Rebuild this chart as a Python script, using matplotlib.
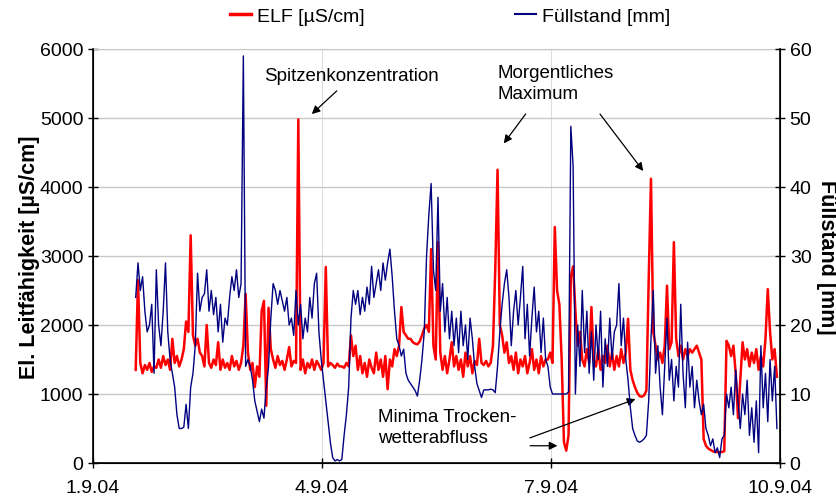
import matplotlib
matplotlib.use("Agg")
import matplotlib.pyplot as plt
from matplotlib.lines import Line2D
import pandas as pd

plt.rcParams["font.family"] = ["Liberation Sans", "DejaVu Sans"]

# logger samples, every 0.03 d starting 1.9.04 13:26
START = "2004-09-01 13:26"
STEP_MIN = 43.2

# ELF [µS/cm]
elf = [
    1350, 2650, 1450, 1300, 1420, 1350, 1450, 1320, 1400, 1380,
    1500, 1380, 1550, 1420, 1500, 1350, 1800, 1450, 1550, 1400,
    1500, 1650, 2050, 1900, 3300, 1850, 1700, 1800, 1600, 1550,
    1400, 2000, 1450, 1380, 1500, 1420, 1750, 1350, 1500, 1380,
    1450, 1350, 1550, 1400, 1480, 1350, 1450, 1700, 2450, 1600,
    1350, 1450, 1100, 1400, 1250, 2200, 2350, 830, 2250, 1650,
    1500, 1380, 1550, 1420, 1480, 1350, 1500, 1680, 1400, 1480,
    1450, 4980, 1350, 1500, 1300, 1450, 1380, 1500, 1350, 1480,
    1420, 1350, 1450, 2840, 1400, 1450, 1420, 1380, 1440, 1400,
    1400, 1380, 1450, 1400, 1850, 1550, 1700, 1350, 1550, 1300,
    1450, 1250, 1500, 1380, 1300, 1600, 1350, 1500, 1250, 1550,
    1070, 1500, 1400, 1650, 1550, 1700, 2260, 1900, 1850, 1800,
    1800, 1750, 1730, 1720, 1760, 1850, 1950, 2000, 1900, 3100,
    1700, 1500, 3200, 1600, 1350, 1550, 1300, 1500, 1750, 1400,
    1550, 1350, 1500, 1250, 1600, 1400, 1550, 1300, 1480, 1420,
    1800, 1450, 1420, 1480, 1400, 1450, 1700, 2800, 4250, 2000,
    1850, 1600, 1750, 1450, 1550, 1350, 1600, 1300, 1500, 1400,
    1550, 1300, 1450, 1650, 1350, 1500, 1300, 1550, 1400, 1500,
    1500, 1600, 1450, 3420, 2500, 2300, 1500, 300, 180, 400,
    2700, 2850, 2200, 1700, 1900, 1500, 1400, 1650, 1450, 2260,
    1500, 1400, 1650, 1350, 1550, 1450, 1700, 1400, 1600, 1350,
    1550, 1400, 1650, 1450, 1600, 2090, 1350, 1200, 1100, 1020,
    970, 960, 980, 1050, 2650, 4120, 1900, 1700, 1500, 1600,
    1450, 1700, 2570, 1650, 1750, 3200, 1800, 1550, 1700, 1500,
    1650, 1550, 1650, 1600, 1650, 1700, 1600, 1500, 350, 250,
    210, 190, 170, 160, 160, 155, 160, 170, 1770, 1700,
    1550, 1700, 1300, 650, 1200, 1750, 1500, 1650, 1400, 1600,
    1450, 1650, 1350, 1550, 1400, 1800, 2520, 1900, 1500, 1650, 1250,
]

# Füllstand [mm]
level = [
    24, 29, 25, 27, 22, 19, 20, 23, 13, 28,
    20, 17, 22, 29, 19, 15, 13, 11, 7, 5,
    5, 5.2, 8.5, 5, 11, 13, 17, 27.5, 22, 24,
    24.5, 28, 22, 25, 21.5, 24, 19, 23, 17.5, 21,
    20, 24, 27, 25, 28, 24, 26, 59, 14, 15,
    14, 12, 9, 7.5, 6, 7.8, 6.5, 11, 14, 21,
    26, 25, 23, 25, 23.5, 22, 24, 20, 21, 18.5,
    25, 20, 23, 18, 21, 19, 24, 21, 26, 27.5,
    19, 15, 12, 9, 6, 3, 0.8, 0.3, 0.5, 0.3,
    0.5, 4, 7, 11, 21, 25, 23, 25, 21.5, 24,
    22, 25.5, 23, 28.5, 24, 26, 28, 25, 29, 26.5,
    29, 31, 27, 22, 18, 17, 15.5, 16.5, 13, 12,
    11.5, 11, 10.5, 9.7, 12, 15, 19, 30, 36, 40.5,
    28, 25, 38.5, 22, 26, 19, 24, 18, 22, 17,
    21, 16, 22, 17, 20, 15, 21, 18, 14, 11.5,
    10.5, 9.5, 10.6, 10.6, 10.6, 10.7, 10.6, 10.2, 14, 19,
    23, 26, 28, 24, 17, 22, 25, 20, 24, 28.5,
    18, 23, 15.5, 21, 25.5, 19, 22, 16, 21, 15,
    14, 11, 10, 10, 10, 10, 10, 10, 10, 10.3,
    48.8, 43, 10, 20, 14, 25, 16, 22, 13, 19,
    12, 20, 15, 22, 11, 18, 14, 21, 15, 19,
    20, 26, 17, 21, 15, 12, 8, 5, 4, 3.2,
    3, 3.2, 3.5, 4, 9, 18, 25, 13, 17, 11,
    7, 14, 21, 12, 15, 9, 14, 11, 23, 13,
    8, 17.5, 11, 14, 8, 12, 9, 7, 8.5, 5,
    4, 2.5, 3.5, 1.5, 2.2, 0.8, 3.5, 4, 10, 8,
    11, 7, 13.5, 9, 5, 10, 7, 12, 4, 8,
    3, 9, 1.5, 17, 8, 13, 6, 15, 9, 14, 5,
]

tick_dates = ["2004-09-01", "2004-09-04", "2004-09-07", "2004-09-10"]
tick_labels = ["1.9.04", "4.9.04", "7.9.04", "10.9.04"]

RED = "#ff0000"
NAVY = "#000080"
GRID = "#c8c8c8"

t = pd.date_range(START, periods=len(elf), freq=pd.Timedelta(minutes=STEP_MIN))


def day(d):
    # fractional day of September 2004 -> timestamp (for annotation placement)
    return pd.Timestamp("2004-09-01") + pd.Timedelta(days=d - 1)


fig = plt.figure(figsize=(8.37, 5.02), dpi=100)
ax = fig.add_axes([0.1111, 0.0757, 0.8208, 0.8247])
ax2 = ax.twinx()

ax.plot(t, elf, color=RED, lw=1.8, zorder=3)
ax2.plot(t, level, color=NAVY, lw=1.0, zorder=3)

ax.set_xlim(pd.Timestamp(tick_dates[0]), pd.Timestamp(tick_dates[-1]))
ax.set_ylim(0, 6000)
ax2.set_ylim(0, 60)
ax.set_yticks(range(0, 6001, 1000))
ax2.set_yticks(range(0, 61, 10))
ax.set_xticks([pd.Timestamp(d) for d in tick_dates])
ax.set_xticklabels(tick_labels)

ax.grid(True, axis="y", color=GRID, lw=1.0, zorder=0)
ax.grid(True, axis="x", color="#dddddd", lw=0.8, zorder=0)
ax.set_axisbelow(True)

ax.spines["top"].set_color(GRID)
ax2.spines["top"].set_visible(False)
for a in (ax, ax2):
    a.tick_params(labelsize=14, direction="inout", length=7, width=1)
ax.spines["left"].set_linewidth(1.2)
ax.spines["bottom"].set_linewidth(1.2)
ax2.spines["right"].set_linewidth(1.2)
ax.tick_params(axis="x", pad=8)

ax.set_ylabel("El. Leitfähigkeit [µS/cm]", fontsize=15.5, fontweight="bold", labelpad=0)
ax2.set_ylabel("Füllstand [mm]", fontsize=15.5, fontweight="bold", rotation=-90,
               va="bottom", labelpad=3)

# annotations
arrow = dict(arrowstyle="-|>", color="black", lw=0.9, mutation_scale=12)
ax.text(day(4.39), 5610, "Spitzenkonzentration", fontsize=13.5, ha="center", va="center")
ax.annotate("", xy=(day(3.84), 5030), xytext=(day(4.22), 5420), arrowprops=arrow)

ax.text(day(6.30), 5510, "Morgentliches\nMaximum", fontsize=13.5, ha="left", va="center",
        linespacing=1.35)
ax.annotate("", xy=(day(6.36), 4600), xytext=(day(6.69), 5090), arrowprops=arrow)
ax.annotate("", xy=(day(8.23), 4200), xytext=(day(7.62), 5090), arrowprops=arrow)

ax.text(day(4.73), 520, "Minima Trocken-\nwetterabfluss", fontsize=13.5, ha="left", va="center",
        linespacing=1.25, zorder=5)
ax.annotate("", xy=(day(7.12), 250), xytext=(day(6.69), 250), arrowprops=arrow)
ax.annotate("", xy=(day(8.14), 940), xytext=(day(6.69), 350), arrowprops=arrow)

handles = [Line2D([], [], color=RED, lw=2.5), Line2D([], [], color=NAVY, lw=1.5)]
fig.legend(handles, ["ELF [µS/cm]", "Füllstand [mm]"], loc="center",
           bbox_to_anchor=(450 / 837, 1 - 17 / 502), ncol=2, frameon=False,
           fontsize=14, handlelength=1.1, handletextpad=0.3, columnspacing=7.7)

fig.savefig("out.png", dpi=100)
